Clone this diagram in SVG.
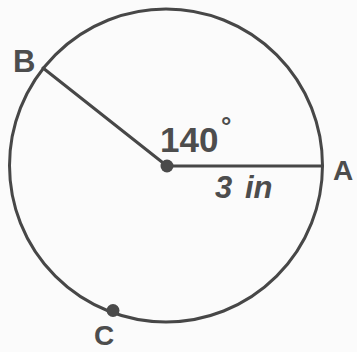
<svg xmlns="http://www.w3.org/2000/svg" width="357" height="352" viewBox="0 0 357 352">
<style>
.lbl{font-family:"Liberation Sans",Arial,sans-serif;fill:#4d4d4d;font-weight:bold}
.ln{stroke:#474747;stroke-width:3;fill:none;stroke-linecap:round}
.dot{fill:#4a4a4a}
</style>
<rect width="357" height="352" fill="#fbfbfb"/>
<g id="circle"><circle class="ln" cx="166" cy="165.5" r="156.5"/></g>
<g id="connectors">
<line class="ln" x1="167" y1="166" x2="322.5" y2="166"/>
<line class="ln" x1="167" y1="166" x2="43" y2="68"/>
</g>
<g id="center"><circle class="dot" cx="167" cy="166" r="6.5"/></g>
<g id="pointC"><circle class="dot" cx="113" cy="310.5" r="6.5"/><text class="lbl" x="94" y="345" font-size="28">C</text></g>
<g id="pointA"><text class="lbl" x="333" y="180" font-size="28">A</text></g>
<g id="pointB"><text class="lbl" x="13" y="72" font-size="31">B</text></g>
<g id="angle"><text class="lbl" x="160" y="152" font-size="35">140</text><text class="lbl" x="221" y="135" font-size="26">°</text></g>
<g id="radius"><text class="lbl" x="215" y="198" font-size="31" font-style="italic">3<tspan x="245">in</tspan></text></g>
</svg>
